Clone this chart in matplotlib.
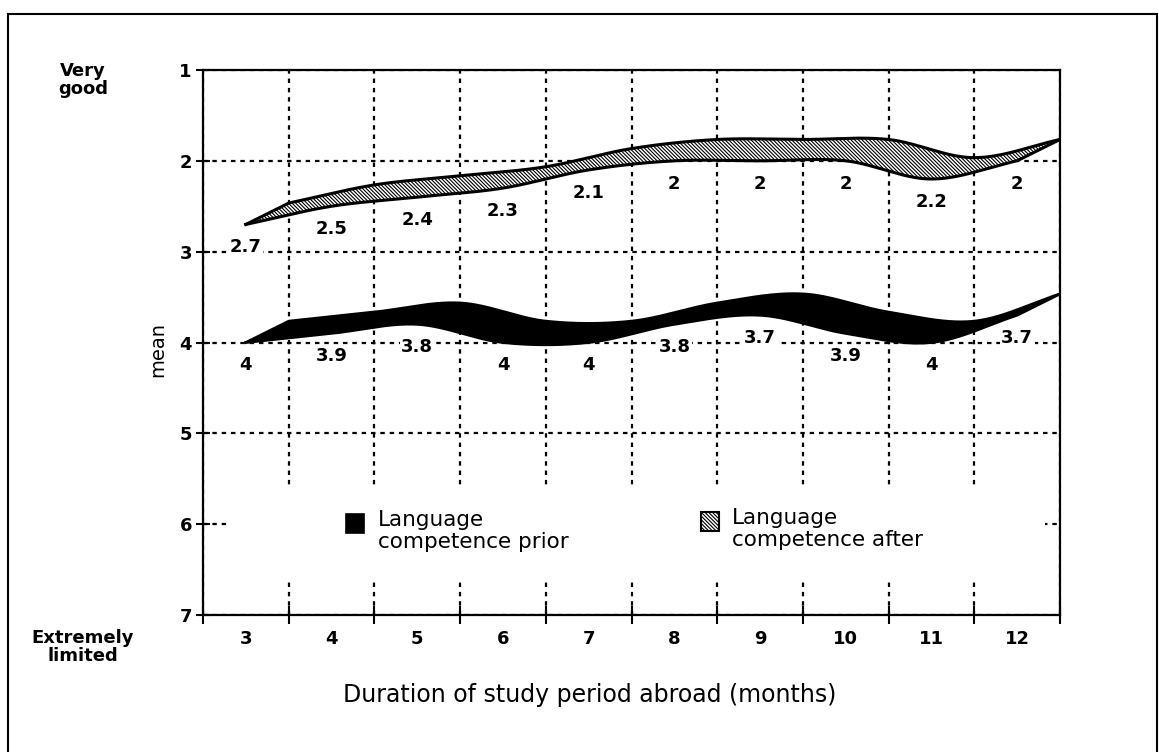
import numpy as np
import matplotlib
matplotlib.use("Agg")
import matplotlib.pyplot as plt
from matplotlib.patches import Rectangle

# ---------------- data ----------------
months = ["3", "4", "5", "6", "7", "8", "9", "10", "11", "12"]
prior = [4, 3.9, 3.8, 4, 4, 3.8, 3.7, 3.9, 4, 3.7]
after = [2.7, 2.5, 2.4, 2.3, 2.1, 2, 2, 2, 2.2, 2]
prior_labels = ["4", "3.9", "3.8", "4", "4", "3.8", "3.7", "3.9", "4", "3.7"]
after_labels = ["2.7", "2.5", "2.4", "2.3", "2.1", "2", "2", "2", "2.2", "2"]
y_ticks = [1, 2, 3, 4, 5, 6, 7]
series_names = ["Language\ncompetence prior", "Language\ncompetence after"]
xlabel = "Duration of study period abroad (months)"
ylabel = "mean"
top_note = "Very\ngood"
bottom_note = "Extremely\nlimited"

plt.rcParams["font.family"] = ["DejaVu Sans"]
plt.rcParams["hatch.linewidth"] = 0.8

W, H = 1159, 752
fig = plt.figure(figsize=(W / 100, H / 100), dpi=100)
fig.patch.set_facecolor("white")


def fx(px):
    return px / W


def fy(py):
    return 1 - py / H


ax = fig.add_axes([fx(203), fy(615), fx(1060) - fx(203), fy(70) - fy(615)])
n = len(months)
ax.set_xlim(-0.5, n - 0.5)
ax.set_ylim(7, 1)

# 3-D ribbon depth offset (style)
DX, DY = 0.5, -0.235
HATCH = "\\" * 9


def smooth(vals, xs):
    v = np.asarray(vals, float)
    ext = np.concatenate([[2 * v[0] - v[1]], v, [2 * v[-1] - v[-2]]])
    xs = np.clip(xs, 0, len(v) - 1)
    k = np.minimum(np.floor(xs).astype(int), len(v) - 2)
    t = xs - k
    p0, p1, p2, p3 = ext[k], ext[k + 1], ext[k + 2], ext[k + 3]
    return 0.5 * (2 * p1 + (-p0 + p2) * t + (2 * p0 - 5 * p1 + 4 * p2 - p3) * t ** 2
                  + (-p0 + 3 * p1 - 3 * p2 + p3) * t ** 3)


def ribbon(vals):
    xs = np.linspace(0, n - 1 + DX, 2000)
    us = np.linspace(0, 1, 301)
    XF = xs[:, None] - us[None, :] * DX
    valid = (XF >= -1e-9) & (XF <= n - 1 + 1e-9)
    Y = smooth(vals, XF) + us[None, :] * DY
    lo = np.where(valid, Y, np.inf).min(axis=1)
    hi = np.where(valid, Y, -np.inf).max(axis=1)
    return xs, lo, hi


# grid
ax.set_axisbelow(True)
ax.set_xticks(np.arange(-0.5, n, 1.0))
ax.set_xticklabels([])
ax.set_xticks(np.arange(n), months, minor=True)
ax.set_yticks(y_ticks)
ax.set_yticklabels([str(t) for t in y_ticks], fontsize=13, fontweight="bold")
for lab in ax.get_xticklabels(minor=True):
    lab.set_fontsize(13)
    lab.set_fontweight("bold")
ax.grid(True, which="major", color="black", linestyle=(0, (2.0, 2.2)), linewidth=1.6)
ax.tick_params(axis="x", which="major", direction="inout", length=13, width=1.5)
ax.tick_params(axis="y", which="major", direction="inout", length=10, width=1.5, pad=3)
ax.tick_params(axis="x", which="minor", length=0, pad=11)
for sp in ax.spines.values():
    sp.set_linewidth(1.6)
    sp.set_color("black")

# white area behind legend (interrupts grid)
ax.add_patch(Rectangle((0.029, 0.064), 0.953, 0.169, transform=ax.transAxes,
                       facecolor="white", edgecolor="none", zorder=1))

# ribbons
xs, lo, hi = ribbon(prior)
ax.fill_between(xs, lo, hi, facecolor="black", edgecolor="black", linewidth=0, zorder=2)
ax.plot(xs, lo, color="black", lw=2, zorder=3)
ax.plot(xs, hi, color="black", lw=2, zorder=3)

xs, lo, hi = ribbon(after)
ax.fill_between(xs, lo, hi, facecolor="white", edgecolor="black", hatch=HATCH,
                linewidth=0, zorder=2)
ax.plot(xs, lo, color="black", lw=2.2, zorder=3)
ax.plot(xs, hi, color="black", lw=2.2, zorder=3)

# value labels
for vals, labs in ((prior, prior_labels), (after, after_labels)):
    for i, (v, s) in enumerate(zip(vals, labs)):
        ax.text(i, v + 0.25, s, ha="center", va="center", fontsize=13,
                fontweight="bold", zorder=4,
                bbox=dict(facecolor="white", edgecolor="none", pad=1.0))

# legend (manual, inside plot area)
fig.add_artist(Rectangle((fx(346), fy(533)), 18 / W, 19 / H, transform=fig.transFigure,
                         facecolor="black", edgecolor="black", lw=1.2))
fig.text(fx(378), fy(510), series_names[0], ha="left", va="top", fontsize=15.5,
         linespacing=1.1)
fig.add_artist(Rectangle((fx(701), fy(531)), 18 / W, 19 / H, transform=fig.transFigure,
                         facecolor="white", edgecolor="black", hatch=HATCH, lw=1.5))
fig.text(fx(732), fy(508), series_names[1], ha="left", va="top", fontsize=15.5,
         linespacing=1.1)

# axis texts
fig.text(fx(158), fy(349), ylabel, rotation=90, ha="center", va="center", fontsize=14)
fig.text(fx(590), fy(695), xlabel, ha="center", va="center", fontsize=17)
fig.text(fx(83), fy(80), top_note, ha="center", va="center", fontsize=13,
         fontweight="bold", linespacing=1.0)
fig.text(fx(83), fy(647), bottom_note, ha="center", va="center", fontsize=13,
         fontweight="bold", linespacing=1.0)

# outer frame
fig.add_artist(Rectangle((fx(8), -0.05), fx(1157) - fx(8), fy(14) + 0.05,
                         transform=fig.transFigure, fill=False, lw=1.5,
                         edgecolor="black"))

fig.savefig("out.png", dpi=100, facecolor="white")
